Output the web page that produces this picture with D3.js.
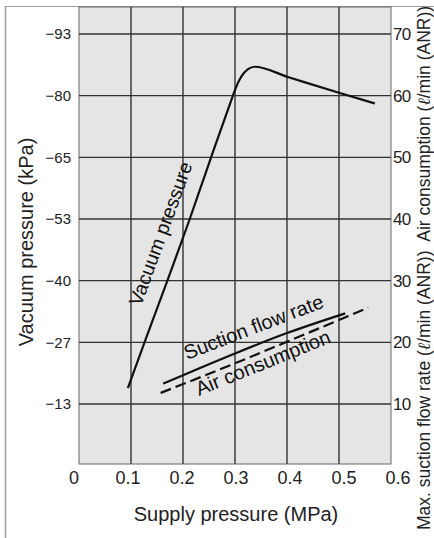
<!DOCTYPE html>
<html>
<head>
<meta charset="utf-8">
<script src="https://cdn.jsdelivr.net/npm/d3@7"></script>
<style>
  html, body { margin: 0; padding: 0; background: #fff; }
  svg { display: block; font-family: "Liberation Sans", Arial, Helvetica, sans-serif; }
</style>
</head>
<body>
<svg id="chart" width="434" height="538"></svg>
<script>
// ---- data ----
const xTicks = [0, 0.1, 0.2, 0.3, 0.4, 0.5, 0.6];
const xTickLabels = ["0", "0.1", "0.2", "0.3", "0.4", "0.5", "0.6"];
const flowTicks = [10, 20, 30, 40, 50, 60, 70];
const vacTicks = [-13, -27, -40, -53, -65, -80, -93];
const vacTickLabels = ["\u221213", "\u221227", "\u221240", "\u221253", "\u221265", "\u221280", "\u221293"];

const vacSupply = [0.094, 0.126, 0.170, 0.213, 0.254, 0.296, 0.301, 0.312, 0.325, 0.338, 0.400, 0.500, 0.569];
const vacPressure = [-16.6, -27, -40, -53, -65, -80, -81.5, -84.0, -85.6, -86.1, -84.0, -80.6, -78.1];

const suctionSupply = [0.162, 0.300, 0.400, 0.512];
const suctionFlow = [13.3, 18.2, 21.5, 24.7];

const airSupply = [0.157, 0.300, 0.400, 0.556];
const airFlow = [11.8, 16.6, 20.1, 25.6];

// ---- layout ----
const plot = { left: 79, right: 391, top: 7, bottom: 464 };
const svg = d3.select("#chart");

const x = d3.scaleLinear().domain([0, 0.6]).range([plot.left, plot.right]);
const yFlow = d3.scaleLinear().domain([10, 70]).range([404, 34]);
const yVac = d3.scaleLinear()
  .domain([0].concat(vacTicks))
  .range([yFlow(0)].concat(flowTicks.map(yFlow)));

// frame lines
svg.append("line").attr("x1", 5.5).attr("x2", 5.5).attr("y1", 6).attr("y2", 538)
  .attr("stroke", "#9a9a9a").attr("stroke-width", 1.5);
svg.append("line").attr("x1", 5).attr("x2", 434).attr("y1", 6.5).attr("y2", 6.5)
  .attr("stroke", "#9a9a9a").attr("stroke-width", 1.2);

// plot background
svg.append("rect")
  .attr("x", plot.left).attr("y", plot.top)
  .attr("width", plot.right - plot.left).attr("height", plot.bottom - plot.top)
  .attr("fill", "#e5e5e5").attr("stroke", "#666").attr("stroke-width", 1);

// grid
const grid = svg.append("g").attr("stroke", "#333").attr("stroke-width", 1.4);
grid.selectAll("line.v").data(xTicks.slice(1, -1)).enter().append("line")
  .attr("x1", d => x(d)).attr("x2", d => x(d))
  .attr("y1", plot.top).attr("y2", plot.bottom);
grid.selectAll("line.h").data(flowTicks).enter().append("line")
  .attr("x1", plot.left).attr("x2", plot.right)
  .attr("y1", d => yFlow(d)).attr("y2", d => yFlow(d));

// bottom axis labels
svg.append("g").selectAll("text").data(xTicks).enter().append("text")
  .attr("x", (d, i) => x(d) + (i - 2.5) * 2)
  .attr("y", 484)
  .attr("text-anchor", "middle")
  .attr("font-size", 18).attr("fill", "#222")
  .text((d, i) => xTickLabels[i]);

// left axis labels (vacuum)
svg.append("g").selectAll("text").data(vacTicks).enter().append("text")
  .attr("x", 71)
  .attr("y", d => yVac(d))
  .attr("dy", "0.35em")
  .attr("text-anchor", "end")
  .attr("font-size", 15).attr("fill", "#222")
  .text((d, i) => vacTickLabels[i]);

// right axis labels (flow)
svg.append("g").selectAll("text").data(flowTicks).enter().append("text")
  .attr("x", 393)
  .attr("y", d => yFlow(d))
  .attr("dy", "0.35em")
  .attr("text-anchor", "start")
  .attr("font-size", 17).attr("letter-spacing", -0.8).attr("fill", "#222")
  .text(d => d);

// axis titles
svg.append("text").attr("x", 236).attr("y", 521).attr("text-anchor", "middle")
  .attr("font-size", 20).attr("fill", "#222").text("Supply pressure (MPa)");
svg.append("text").attr("transform", "translate(33,242) rotate(-90)")
  .attr("text-anchor", "middle").attr("font-size", 20).attr("fill", "#222")
  .text("Vacuum pressure (kPa)");
const rt = svg.append("text").attr("transform", "translate(430,268) rotate(-90)")
  .attr("text-anchor", "middle").attr("font-size", 17.5).attr("fill", "#222");
rt.append("tspan").text("Max. suction flow rate (");
rt.append("tspan").attr("font-style", "italic").attr("font-family", "'DejaVu Serif', serif").text("\u2113");
rt.append("tspan").text("/min (ANR))\u2002Air consumption (");
rt.append("tspan").attr("font-style", "italic").attr("font-family", "'DejaVu Serif', serif").text("\u2113");
rt.append("tspan").text("/min (ANR))");

// curves
const vacLine = d3.line().x(d => x(d[0])).y(d => yVac(d[1])).curve(d3.curveMonotoneX);
svg.append("path").datum(d3.zip(vacSupply, vacPressure))
  .attr("d", vacLine).attr("fill", "none").attr("stroke", "#111").attr("stroke-width", 2.2);

const flowLine = d3.line().x(d => x(d[0])).y(d => yFlow(d[1])).curve(d3.curveMonotoneX);
svg.append("path").datum(d3.zip(suctionSupply, suctionFlow))
  .attr("d", flowLine).attr("fill", "none").attr("stroke", "#111").attr("stroke-width", 2.2);
svg.append("path").datum(d3.zip(airSupply, airFlow))
  .attr("d", flowLine).attr("fill", "none").attr("stroke", "#111").attr("stroke-width", 2.2)
  .attr("stroke-dasharray", "11,5");

// curve labels
svg.append("text").attr("transform", "translate(141,307) rotate(-70)")
  .attr("font-size", 19.5).attr("fill", "#111").text("Vacuum pressure");
svg.append("text").attr("transform", "translate(187,360) rotate(-21)")
  .attr("font-size", 20).attr("fill", "#111").text("Suction flow rate");
svg.append("text").attr("transform", "translate(199,396) rotate(-22)")
  .attr("font-size", 20).attr("fill", "#111").text("Air consumption");
</script>
</body>
</html>
